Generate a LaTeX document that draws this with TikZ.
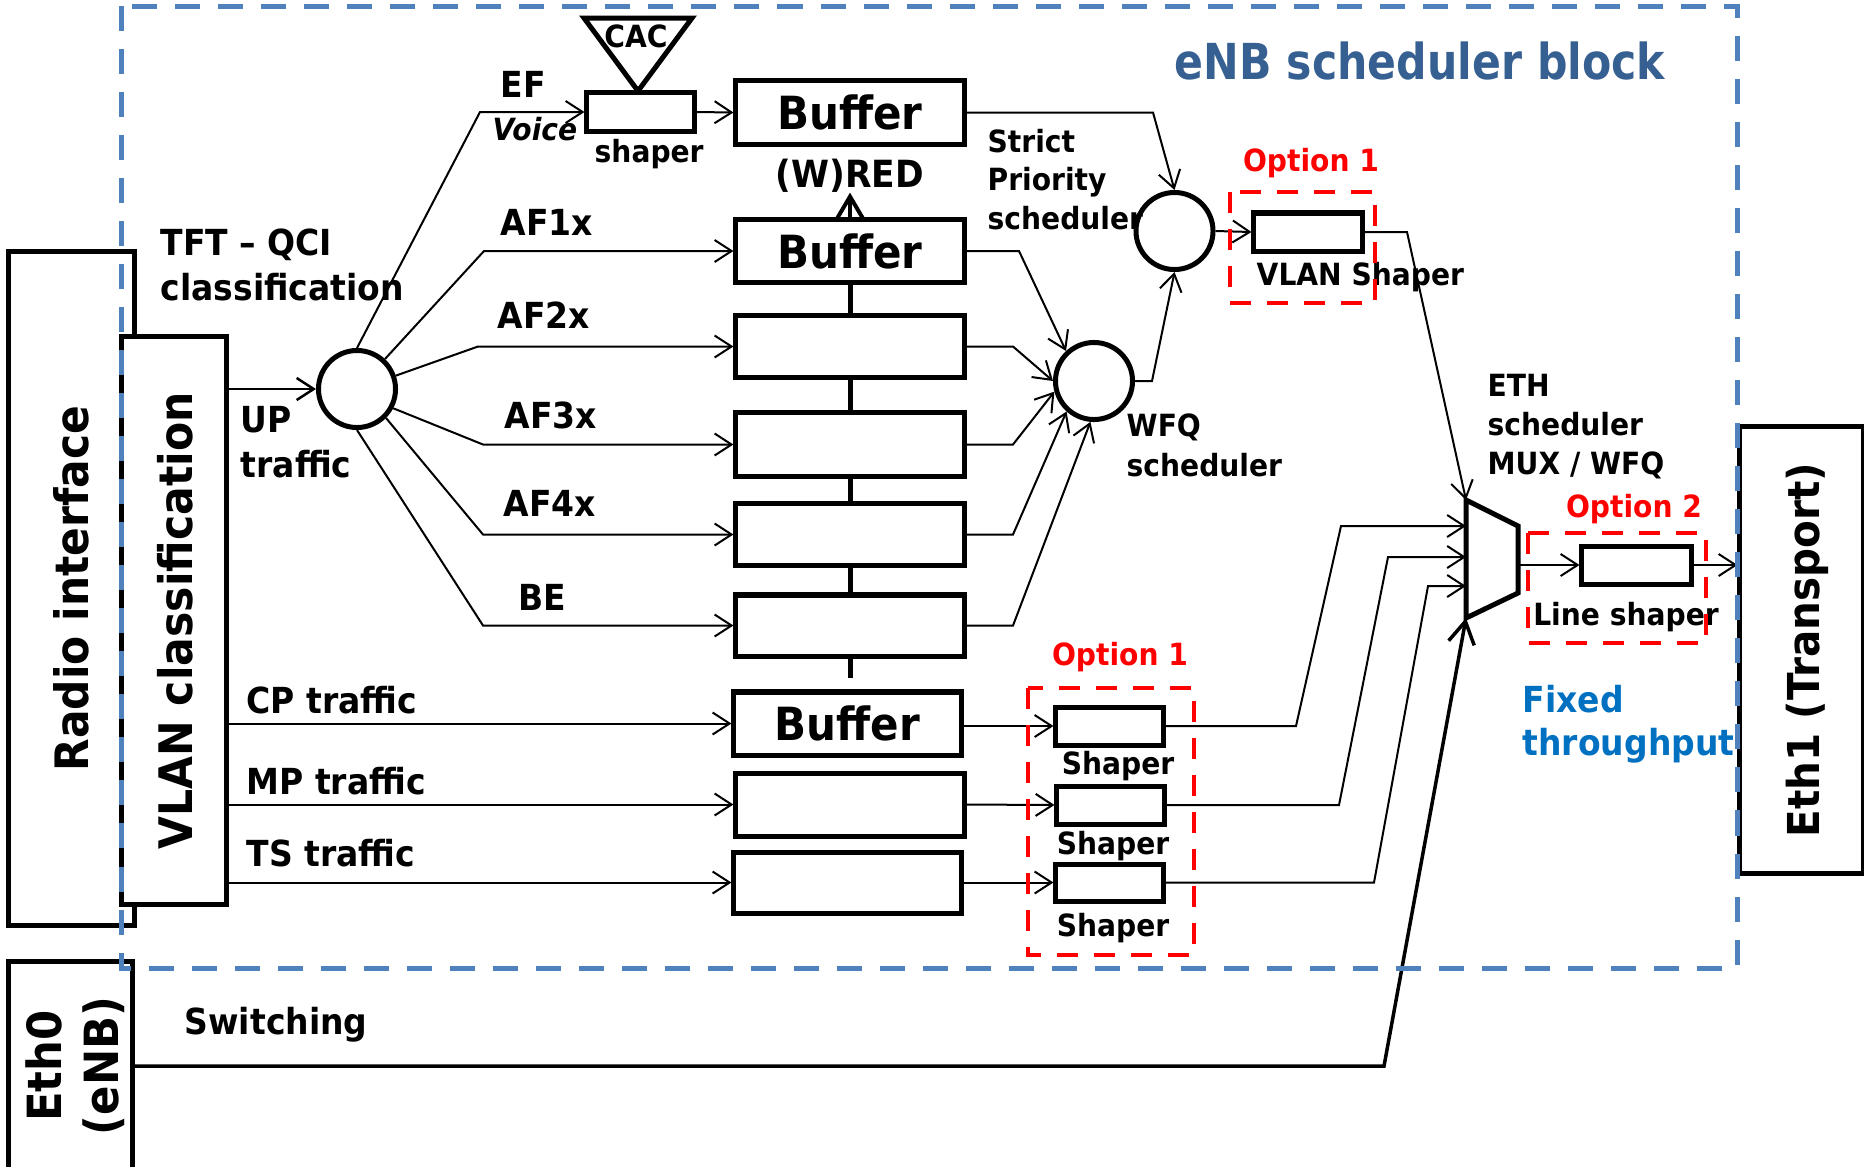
\documentclass[tikz,border=0pt]{standalone}
\usepackage{fontspec}
\setmainfont{DejaVu Sans}[FakeStretch=0.92]
\newfontfamily\enbtitlefont{DejaVu Sans}[FakeStretch=0.86]
\usetikzlibrary{arrows.meta}
\definecolor{frameblue}{RGB}{79,129,189}
\definecolor{titleblue}{RGB}{55,96,146}
\definecolor{optred}{RGB}{255,0,0}
\definecolor{fixblue}{RGB}{0,112,192}
\newcommand\lblsize[1]{\fontsize{#1}{#1}\selectfont\bfseries}

\begin{document}
\begin{tikzpicture}[x=0.01cm,y=-0.01cm,
  >={Straight Barb[length=1.7mm,width=2.2mm]},
  flow/.style={line width=0.2mm,->},
  heavy/.style={line width=0.4mm,-{Straight Barb[length=2.2mm,width=2.6mm]}},
  qbox/.style={draw,line width=0.5mm,fill=white,minimum width=2.28cm,inner sep=0pt},
  shbox/.style={draw,line width=0.5mm,fill=white,minimum width=1.07cm,minimum height=0.38cm,inner sep=0pt},
  sched/.style={draw,circle,line width=0.5mm,minimum size=0.77cm,inner sep=0pt},
  port/.style={draw,line width=0.5mm,fill=white,inner sep=0pt},
  lbl/.style={anchor=base west,inner sep=0pt,font=\lblsize{10.2}},
  small/.style={anchor=base west,inner sep=0pt,font=\lblsize{8.7}},
  opt/.style={anchor=base,inner sep=0pt,text=optred,font=\lblsize{8.7}},
  optbox/.style={draw=optred,line width=0.45mm,dash pattern=on 0.21cm off 0.16cm},
  frame/.style={draw=frameblue,line width=0.5mm,dash pattern=on 0.25cm off 0.18cm},
]
\useasboundingbox (0,0) rectangle (1864,1166);
\clip (0,0) rectangle (1864,1166);

% interfaces
\node[port,minimum width=1.25cm,minimum height=6.73cm] (radio) at (71.5,588.5) {};
\node[rotate=90,inner sep=0pt,font=\lblsize{13.1}] (radiolbl) at (radio.center) {Radio interface};
\node[port,minimum width=1.04cm,minimum height=5.67cm] (vlan) at (174,620.5) {};
\node[rotate=90,inner sep=0pt,font=\lblsize{13.15}] (vlanlbl) at (175,621) {VLAN classification};
\node[port,minimum width=1.23cm,minimum height=2.08cm] (eth0) at (70.5,1066) {};
\node[rotate=90,inner sep=0pt,font=\lblsize{13.4}] (eth0a) at (44,1066) {Eth0};
\node[rotate=90,inner sep=0pt,font=\lblsize{13.4}] (eth0b) at (104,1066) {(eNB)};
\node[port,minimum width=1.23cm,minimum height=4.46cm] (eth1) at (1801.5,650) {};
\node[rotate=90,inner sep=0pt,font=\lblsize{12.5}] (eth1lbl) at (1807,650) {Eth1 (Transport)};

% queues
\node[qbox,minimum height=0.63cm,font=\lblsize{13}] (q1) at (850,112.5) {Buffer};
\node[qbox,minimum height=0.62cm,font=\lblsize{13}] (q2) at (850,251) {Buffer};
\node[qbox,minimum height=0.61cm] (q3) at (850,346.5) {};
\node[qbox,minimum height=0.63cm] (q4) at (850,444.5) {};
\node[qbox,minimum height=0.61cm] (q5) at (850,534.5) {};
\node[qbox,minimum height=0.61cm] (q6) at (850,625.5) {};
\node[qbox,minimum width=2.27cm,minimum height=0.63cm,font=\lblsize{13}] (qcp) at (847.5,723.5) {Buffer};
\node[qbox,minimum height=0.63cm] (qmp) at (850,804.5) {};
\node[qbox,minimum width=2.27cm,minimum height=0.61cm] (qts) at (847.5,882.5) {};
\coordinate (linkend) at (850,678);
\draw[line width=0.5mm] (q2.south) -- (q3.north) (q3.south) -- (q4.north)
  (q4.south) -- (q5.north) (q5.south) -- (q6.north) (q6.south) -- (linkend);

% shapers
\node[shbox] (efs) at (640.5,112) {};
\node[shbox,minimum width=1.08cm] (vsh) at (1308,232) {};
\node[shbox] (sh1) at (1109.5,726) {};
\node[shbox] (sh2) at (1110.5,805) {};
\node[shbox,minimum height=0.37cm] (sh3) at (1109.5,882.5) {};
\node[shbox,minimum width=1.09cm] (lsh) at (1636.5,565) {};

% admission control
\draw[line width=0.5mm,fill=white,line join=miter] (584,18) -- (692,18) -- (638,91) -- cycle;
\node[anchor=base,inner sep=0pt,font=\lblsize{8.7}] (cac) at (636,47) {CAC};

% schedulers
\node[sched] (cls) at (357,389) {};
\node[sched] (sp) at (1174.5,231) {};
\node[sched] (wfq) at (1094,381) {};

% ETH multiplexer
\coordinate (muxtl) at (1466,500);
\coordinate (muxtr) at (1518,526);
\coordinate (muxbr) at (1518,593);
\coordinate (muxbl) at (1466,618);
\coordinate (muxin1) at (1466,526);
\coordinate (muxin2) at (1466,557);
\coordinate (muxin3) at (1466,586);
\coordinate (muxout) at (1518,565);
\draw[line width=0.5mm,line join=miter] (muxtl) -- (muxtr) -- (muxbr) -- (muxbl) -- cycle;

% labels
\node[lbl] (tft) at (160,255) {TFT – QCI};
\node[lbl] (tftb) at (160,300) {classification};
\node[lbl] (ef) at (500,97) {EF};
\node[small,font=\lblsize{8.7}\itshape] (voice) at (492,140) {Voice};
\node[small] (efshl) at (594,162) {shaper};
\node[lbl] (af1) at (500,235) {AF1x};
\node[lbl] (af2) at (497,328) {AF2x};
\node[lbl] (af3) at (504,428) {AF3x};
\node[lbl] (af4) at (503,516) {AF4x};
\node[lbl] (be) at (518,610) {BE};
\node[lbl] (up) at (240,432) {UP};
\node[lbl] (upb) at (240,477) {traffic};
\node[lbl] (cpt) at (246,713) {CP traffic};
\node[lbl] (mpt) at (246,794) {MP traffic};
\node[lbl] (tst) at (246,866) {TS traffic};
\node[lbl] (sw) at (184,1034) {Switching};
\node[small] (spa) at (987,152) {Strict};
\node[small] (spb) at (987,190) {Priority};
\node[small] (spc) at (987,229) {scheduler};
\node[small] (wfqa) at (1126,436) {WFQ};
\node[small] (wfqb) at (1126,476) {scheduler};
\node[small] (vshl) at (1256,285) {VLAN Shaper};
\node[small] (etha) at (1487,396) {ETH};
\node[small] (ethb) at (1487,435) {scheduler};
\node[small] (ethc) at (1487,474) {MUX / WFQ};
\node[small,anchor=base] (lshl) at (1626,625) {Line shaper};
\node[small,anchor=base] (s1l) at (1118,774) {Shaper};
\node[small,anchor=base] (s2l) at (1113,854) {Shaper};
\node[small,anchor=base] (s3l) at (1113,936) {Shaper};
\node[opt] (o1a) at (1311,171) {Option 1};
\node[opt] (o1b) at (1120,665) {Option 1};
\node[opt] (o2) at (1634,517) {Option 2};
\node[lbl,text=fixblue] (fx1) at (1522,712) {Fixed};
\node[lbl,text=fixblue] (fx2) at (1522,755) {throughput};
\node[anchor=base,inner sep=0pt,font=\lblsize{10.65}] (wred) at (850,187) {(W)RED};
\node[anchor=base,inner sep=0pt,text=titleblue,font=\enbtitlefont\bfseries\fontsize{14.1}{14.1}\selectfont] (title) at (1420,79) {eNB scheduler block};

% user plane classification
\draw[flow,line width=0.25mm] (vlan.east |- cls.west) -- (cls.west);
\draw[flow] (cls.north) -- (480,112) -- (efs.west);
\draw[flow] (cls.47) -- (484,251) -- (q2.west);
\draw[flow] (cls.19) -- (478,346.5) -- (q3.west);
\draw[flow] (cls.-28) -- (483,444.5) -- (q4.west);
\draw[flow] (cls.-45) -- (483,534.5) -- (q5.west);
\draw[flow] (cls.south) -- (483,625.5) -- (q6.west);
\draw[flow] (efs.east) -- (q1.west);
\draw[heavy] (q2.north) -- (wred.south);

% scheduling
\draw[flow] (q1.east) -- (1153,112.5) -- (sp.north);
\draw[flow] (q2.east) -- (1019,251) -- (wfq.133);
\draw[flow] (q3.east) -- (1013,346.5) -- (wfq.west);
\draw[flow] (q4.east) -- (1013,444.5) -- (wfq.195);
\draw[flow] (q5.east) -- (1013,534.5) -- (wfq.228);
\draw[flow] (q6.east) -- (1013,625.5) -- (wfq.265);
\draw[flow] (wfq.east) -- (1152,381) -- (sp.south);
\draw[flow] (sp.east) -- (vsh.west);
\draw[flow] (vsh.east) -- (1407,232) -- (muxtl);

% control, management and timing planes
\draw[flow] (vlan.east |- qcp.west) -- (qcp.west);
\draw[flow] (vlan.east |- qmp.west) -- (qmp.west);
\draw[flow] (vlan.east |- qts.west) -- (qts.west);
\draw[flow] (qcp.east |- sh1.west) -- (sh1.west);
\draw[flow] (qmp.east) -- (sh2.west);
\draw[flow] (qts.east) -- (sh3.west);
\draw[flow] (sh1.east) -- (1296,726) -- (1341,526) -- (muxin1);
\draw[flow] (sh2.east) -- (1339,805) -- (1388,557) -- (muxin2);
\draw[flow] (sh3.east) -- (1374,882.5) -- (1428,586) -- (muxin3);

% switching path and transport side
\draw[heavy,line width=0.35mm] (eth0.east) -- (1384,1066) -- (muxbl);
\draw[flow] (muxout) -- (lsh.west);
\draw[flow] (lsh.east) -- (eth1.west |- lsh.east);

% optional shaping points
\draw[optbox] (1230,192) rectangle (1375,303);
\draw[optbox] (1028,688) rectangle (1194,955);
\draw[optbox] (1528,533) rectangle (1706,643);

% scheduler block boundary
\draw[frame] (121,6) rectangle (1737,968);
\end{tikzpicture}
\end{document}
